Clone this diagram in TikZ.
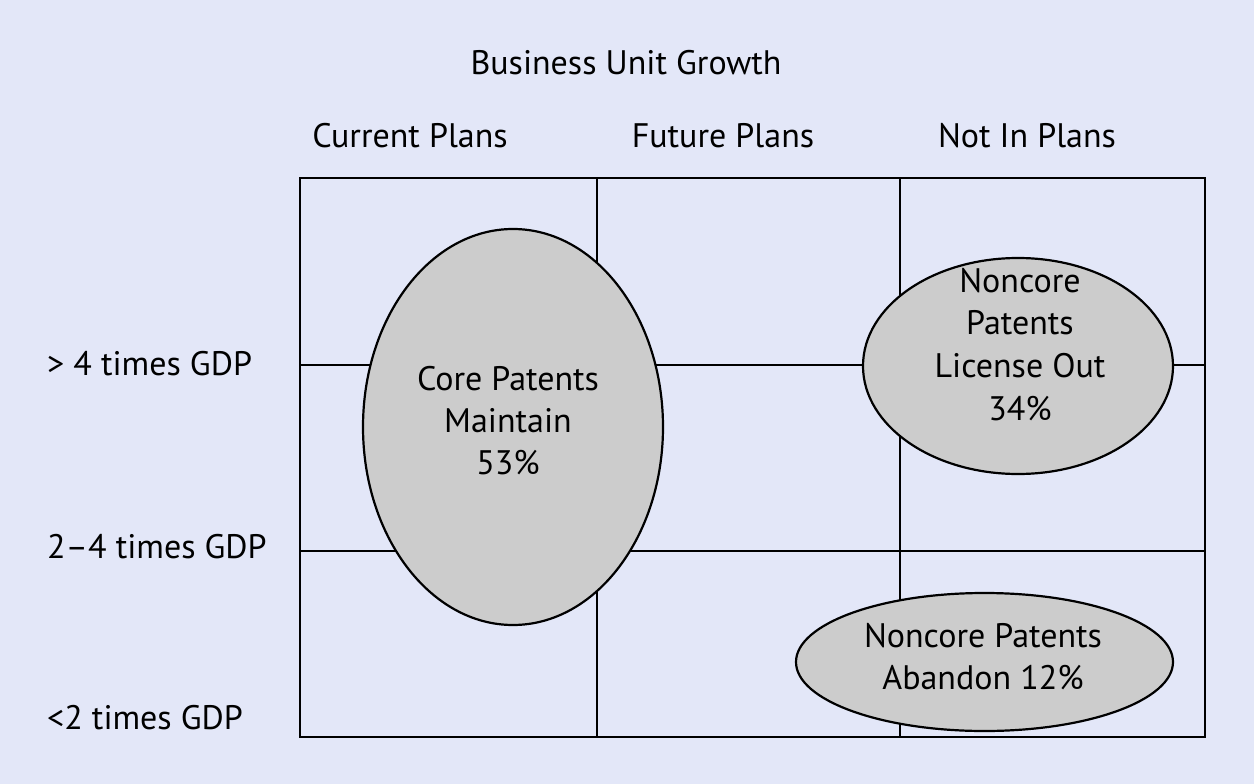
\documentclass[tikz,border=0pt]{standalone}
\usepackage{fontspec}
\setmainfont{PT Sans}
\usetikzlibrary{shapes.geometric}
\definecolor{bg}{RGB}{227,231,248}
\definecolor{ellfill}{RGB}{204,204,204}
\begin{document}
\begin{tikzpicture}[x=1pt,y=-1pt,
  gridline/.style={line width=2.2pt,black},
  blob/.style={ellipse,draw=black,line width=2.2pt,fill=ellfill,inner sep=0pt},
  lbl/.style={font=\fontsize{34}{42}\selectfont,anchor=base,inner sep=0pt},
  lbll/.style={lbl,anchor=base west}]
\fill[bg] (0,0) rectangle (1254,784);
\useasboundingbox (0,0) rectangle (1254,784);
% grid
\draw[gridline] (300,178) rectangle (1205,737);
\draw[gridline] (597,178) -- (597,737);
\draw[gridline] (900,178) -- (900,737);
\draw[gridline] (300,365) -- (1205,365);
\draw[gridline] (300,551) -- (1205,551);
% ellipses
\node[blob,minimum width=300,minimum height=396] (core) at (513,427) {};
\node[blob,minimum width=310,minimum height=216] (lic) at (1018,366) {};
\node[blob,minimum width=377,minimum height=138] (aban) at (984.5,662) {};
% headings
\node[lbl] (title) at (626,75) {Business Unit Growth};
\node[lbl] (cur) at (410,147) {Current Plans};
\node[lbl] (fut) at (723,147) {Future Plans};
\node[lbl] (not) at (1027,147) {Not In Plans};
% row labels
\node[lbll] (r1) at (47,375) {> 4 times GDP};
\node[lbll] (r2) at (47,558) {2–4 times GDP};
\node[lbll] (r3) at (47,729) {<2 times GDP};
% ellipse texts
\node[lbl] (c1) at (508,390) {Core Patents};
\node[lbl] (c2) at (508,432) {Maintain};
\node[lbl] (c3) at (508,474) {53\%};
\node[lbl] (l1) at (1020,292) {Noncore};
\node[lbl] (l2) at (1020,334) {Patents};
\node[lbl] (l3) at (1020,377) {License Out};
\node[lbl] (l4) at (1020,420) {34\%};
\node[lbl] (a1) at (983,647) {Noncore Patents};
\node[lbl] (a2) at (983,689) {Abandon 12\%};
\end{tikzpicture}
\end{document}
